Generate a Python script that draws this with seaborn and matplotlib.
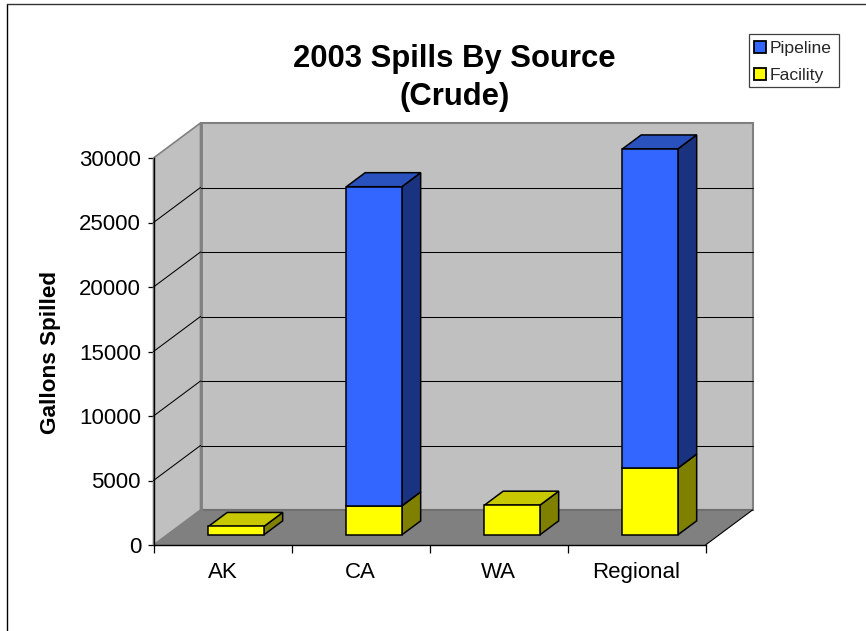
import matplotlib
matplotlib.use("Agg")
import matplotlib.pyplot as plt
import seaborn as sns
import pandas as pd
import numpy as np
from matplotlib.patches import Polygon, Patch, Rectangle
from matplotlib.lines import Line2D
from matplotlib.transforms import Affine2D, IdentityTransform

categories = ["AK", "CA", "WA", "Regional"]
facility = [650, 2250, 2300, 5180]
pipeline = [0, 24740, 0, 24735]
y_ticks = [0, 5000, 10000, 15000, 20000, 25000, 30000]

W, H = 866, 631
DX, DY = 47, 35            # pixel shift of the whole chart depth
D0, D1 = 0.29, 0.69        # bar position within the depth

sns.set_theme(style="white")
plt.rcParams["font.family"] = ["Liberation Sans", "DejaVu Sans"]

fig = plt.figure(figsize=(W / 100, H / 100), dpi=100, facecolor="white")
ax = fig.add_axes([153.5 / W, 1 - 545 / H, 552 / W, 387 / H])
ax.patch.set_alpha(0)

df = pd.DataFrame({"cat": categories, "facility": facility, "pipeline": pipeline})
sns.barplot(data=df, x="cat", y="facility", color="#FFFF00", saturation=1, width=0.402,
            edgecolor="black", linewidth=1.1, ax=ax, zorder=6)
n_fac = len(ax.patches)
sns.barplot(data=df, x="cat", y="pipeline", bottom=df["facility"], color="#3366FF", saturation=1,
            width=0.402, edgecolor="black", linewidth=1.1, ax=ax, zorder=6)
fac_bars = list(ax.patches[:n_fac])
pipe_bars = list(ax.patches[n_fac:])

ax.set_xlim(-0.5, 3.5)
ax.set_ylim(0, 30000)
fig.canvas.draw()


def px(x, y, d=0.0):
    p = ax.transData.transform((x, y))
    return (p[0] + d * DX, p[1] + d * DY)


def poly(pts, fc, ec="none", lw=0.0, z=1):
    ax.add_patch(Polygon(pts, closed=True, facecolor=fc, edgecolor=ec, linewidth=lw,
                         transform=IdentityTransform(), clip_on=False, zorder=z,
                         joinstyle="miter"))


def line(a, b, color="black", lw=0.75, z=2):
    ax.add_line(Line2D([a[0], b[0]], [a[1], b[1]], color=color, linewidth=lw,
                       transform=IdentityTransform(), clip_on=False, zorder=z))


x0, x1, y0, y1 = -0.5, 3.5, 0, 30000
wall, floor_c, edge = "#C0C0C0", "#808080", "#808080"

# back wall, side wall, floor
poly([px(x0, y0, 1), px(x1, y0, 1), px(x1, y1, 1), px(x0, y1, 1)], wall, edge, 1.5, 1)
poly([px(x0, y0, 0), px(x0, y0, 1), px(x0, y1, 1), px(x0, y1, 0)], wall, edge, 1.2, 1)
poly([px(x0, y0, 0), px(x1, y0, 0), px(x1, y0, 1), px(x0, y0, 1)], floor_c, "none", 0, 1.5)
line(px(x0, y0, 1), px(x1, y0, 1), "#707070", 1.5, 1.6)
line(px(x0, y1, 1), px(x0, y0, 1), edge, 2.0, 1.7)
line(px(x1, y0, 0), px(x1, y0, 1), "black", 0.8, 1.8)

for v in y_ticks[1:-1]:
    line(px(x0, v, 0), px(x0, v, 1))
    line(px(x0, v, 1), px(x1, v, 1))

# bar depth faces
shift = Affine2D().translate(D0 * DX, D0 * DY)


def prism(bar, side, top, z):
    a, b = bar.get_x(), bar.get_x() + bar.get_width()
    lo, hi = bar.get_y(), bar.get_y() + bar.get_height()
    poly([px(b, lo, D0), px(b, lo, D1), px(b, hi, D1), px(b, hi, D0)], side, "black", 1.1, z)
    poly([px(a, hi, D0), px(b, hi, D0), px(b, hi, D1), px(a, hi, D1)], top, "black", 1.1, z)
    bar.set_transform(ax.transData + shift)
    bar.set_clip_on(False)


for bar in fac_bars:
    prism(bar, "#808000", "#C8C800", 3)
for bar, v in zip(pipe_bars, pipeline):
    if v > 0:
        prism(bar, "#1A3380", "#2A52BE", 4)
    else:
        bar.set_visible(False)

# axes
sns.despine(ax=ax, top=True, right=True)
for s in ("left", "bottom"):
    ax.spines[s].set_color("black")
    ax.spines[s].set_linewidth(1.0)
    ax.spines[s].set_zorder(2.5)
ax.set_yticks(y_ticks)
ax.set_xticks(np.arange(-0.5, 4.0, 1.0))
ax.set_xticklabels([])
ax.set_xticks(np.arange(len(categories)), labels=categories, minor=True)
ax.tick_params(axis="y", which="major", left=True, length=4, width=0.9, color="black",
               labelsize=16, pad=5, labelcolor="black")
ax.tick_params(axis="x", which="major", bottom=True, length=6, width=0.9, color="black")
ax.tick_params(axis="x", which="minor", bottom=False, length=0, labelsize=16, pad=12.5, labelcolor="black")
ax.set_xlabel("")
ax.set_ylabel("")

fig.text(454.5 / W, 1 - 66.7 / H, "2003 Spills By Source", ha="center", va="baseline",
         fontsize=22.3, fontweight="bold", color="black")
fig.text(454.5 / W, 1 - 105 / H, "(Crude)", ha="center", va="baseline",
         fontsize=22.3, fontweight="bold", color="black")
fig.text(50.5 / W, 1 - 352 / H, "Gallons Spilled", rotation=90, ha="center", va="center",
         fontsize=16.2, fontweight="bold", color="black")

fig.add_artist(Rectangle((748.5 / W, 1 - 86.5 / H), 90.5 / W, 53 / H, facecolor="white",
                         edgecolor="#404040", linewidth=0.9, transform=fig.transFigure))
leg = fig.legend(handles=[Patch(facecolor="#3366FF", edgecolor="black", linewidth=1.3, label="Pipeline"),
                          Patch(facecolor="#FFFF00", edgecolor="black", linewidth=1.3, label="Facility")],
                 loc="upper left", bbox_to_anchor=(748 / W, 1 - 35.5 / H), fontsize=12.6,
                 frameon=False,
                 handlelength=0.66, handleheight=0.66, handletextpad=0.24, labelspacing=0.66,
                 borderpad=0.34, borderaxespad=0)

# chart-area border (runs off the right and bottom of the picture)
fig.add_artist(Line2D([7.5 / W, 7.5 / W], [0, 1 - 4 / H], color="black", linewidth=1.0))
fig.add_artist(Line2D([7.5 / W, 1], [1 - 4 / H, 1 - 4 / H], color="#333333", linewidth=1.0))

fig.savefig("out.png", dpi=100, facecolor="white")
